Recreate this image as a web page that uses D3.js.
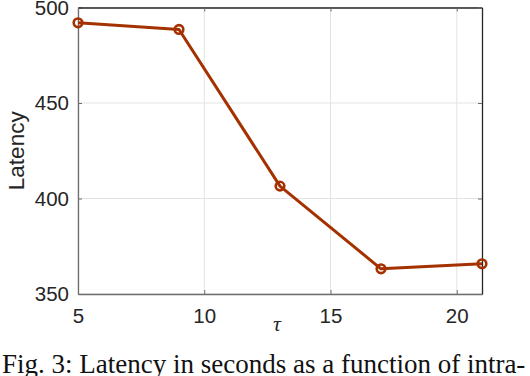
<!DOCTYPE html>
<html>
<head>
<meta charset="utf-8">
<script src="https://cdn.jsdelivr.net/npm/d3@7"></script>
<style>
  body { margin: 0; background: #fff; }
  svg { display: block; }
</style>
</head>
<body>
<div id="chart"></div>
<script>
// values
const tau = [5, 9, 13, 17, 21];
const latency = [492, 488.5, 406.5, 363.2, 365.8];
const xTicks = [5, 10, 15, 20];
const yTicks = [350, 400, 450, 500];

const W = 530, H = 376;
const margin = {top: 7.5, right: 48, bottom: 82, left: 78};
const w = W - margin.left - margin.right;
const h = H - margin.top - margin.bottom;

const svg = d3.select("#chart")
              .append("svg")
              .attr("width", W)
              .attr("height", H);

const g = svg.append("g")
             .attr("transform", `translate(${margin.left},${margin.top})`);

const x = d3.scaleLinear().domain([5, 21]).range([0, w]);
const y = d3.scaleLinear().domain([350, 500]).range([h, 0]);

// grid
g.selectAll(".gx")
 .data(xTicks)
 .enter()
 .append("line")
  .attr("x1", d => x(d)).attr("x2", d => x(d))
  .attr("y1", 0).attr("y2", h)
  .attr("stroke", "#e3e3e3").attr("stroke-width", 1);

g.selectAll(".gy")
 .data(yTicks)
 .enter()
 .append("line")
  .attr("x1", 0).attr("x2", w)
  .attr("y1", d => y(d)).attr("y2", d => y(d))
  .attr("stroke", "#e3e3e3").attr("stroke-width", 1);

// axes (inward ticks like matlab)
const axFont = "'Liberation Sans', Arial, sans-serif";

const xAxis = g.append("g")
   .attr("transform", `translate(0,${h})`)
   .call(d3.axisBottom(x).tickValues(xTicks).tickSizeInner(-4).tickSizeOuter(0).tickPadding(14));
const yAxis = g.append("g")
   .call(d3.axisLeft(y).tickValues(yTicks).tickSizeInner(-4).tickSizeOuter(0).tickPadding(9));
const xTop = g.append("g")
   .call(d3.axisTop(x).tickValues(xTicks).tickSizeInner(-4).tickSizeOuter(0).tickFormat(""));
const yRight = g.append("g")
   .attr("transform", `translate(${w},0)`)
   .call(d3.axisRight(y).tickValues(yTicks).tickSizeInner(-4).tickSizeOuter(0).tickFormat(""));

[xAxis, yAxis].forEach(a => {
  a.select(".domain").attr("stroke", "#6e6e6e").attr("stroke-width", 1.3);
  a.selectAll(".tick line").attr("stroke", "#6e6e6e");
  a.selectAll("text")
   .style("font-family", axFont)
   .style("font-size", "20.5px")
   .attr("fill", "#262626");
});
[xTop, yRight].forEach(a => {
  a.select(".domain").attr("stroke", "#262626").attr("stroke-width", 1.3);
  a.selectAll(".tick line").attr("stroke", "#6e6e6e");
});

// line + open circle markers
const line = d3.line()
               .x((d, i) => x(tau[i]))
               .y(d => y(d));

g.append("path")
 .datum(latency)
 .attr("d", line)
 .attr("fill", "none")
 .attr("stroke", "#a33200")
 .attr("stroke-width", 3)
 .attr("stroke-linejoin", "round");

g.selectAll(".pt")
 .data(latency)
 .enter()
 .append("circle")
  .attr("cx", (d, i) => x(tau[i]))
  .attr("cy", d => y(d))
  .attr("r", 4.3)
  .attr("fill", "none")
  .attr("stroke", "#a33200")
  .attr("stroke-width", 2.6);

// labels
svg.append("text")
   .attr("transform", `translate(24,${margin.top + h / 2}) rotate(-90)`)
   .attr("text-anchor", "middle")
   .style("font-family", axFont)
   .style("font-size", "22.5px")
   .attr("fill", "#262626")
   .text("Latency");

svg.append("text")
   .attr("x", 277)
   .attr("y", 331)
   .attr("text-anchor", "middle")
   .style("font-family", "'Liberation Serif', 'Times New Roman', serif")
   .style("font-style", "italic")
   .style("font-size", "22px")
   .attr("fill", "#262626")
   .text("τ");

// caption
svg.append("text")
   .attr("x", 2)
   .attr("y", 373)
   .style("font-family", "'Liberation Serif', 'Times New Roman', serif")
   .style("font-size", "27px")
   .attr("fill", "#111")
   .text("Fig. 3: Latency in seconds as a function of intra-");
</script>
</body>
</html>
